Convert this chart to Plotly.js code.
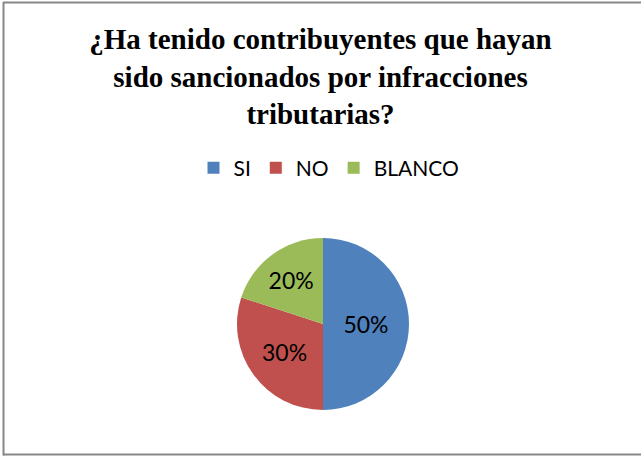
<!DOCTYPE html>
<html>
<head>
<meta charset="utf-8">
<script src="https://cdn.plot.ly/plotly-3.0.1.min.js"></script>
<style>
  html, body { margin: 0; padding: 0; background: #ffffff; }
  #chart { width: 641px; height: 457px; }
</style>
</head>
<body>
<div id="chart"></div>
<script>
// ---- data ----
const categories = ["SI", "NO", "BLANCO"];
const values = [50, 30, 20];
const sliceColors = ["#4F81BD", "#C0504D", "#9BBB59"];
const chartTitle = "¿Ha tenido contribuyentes que hayan<br>sido sancionados por infracciones<br>tributarias?";

// ---- layout geometry (pixels) ----
const W = 641, H = 457;
const M = { l: 5, r: 0, t: 238, b: 47 };
const plotW = W - M.l - M.r, plotH = H - M.t - M.b;
const px = x => (x - M.l) / plotW;
const py = y => (H - M.b - y) / plotH;
const borderColor = "#878787";

const trace = {
  type: "pie",
  labels: categories,
  values: values,
  sort: false,
  direction: "clockwise",
  rotation: 0,
  marker: { colors: sliceColors, line: { width: 0 } },
  textinfo: "percent",
  textposition: "inside",
  insidetextorientation: "horizontal",
  textfont: { family: "Lato, 'Open Sans', sans-serif", size: 23, color: "#000000" },
  hoverinfo: "label+percent"
};

const layout = {
  width: W, height: H,
  margin: M,
  paper_bgcolor: "#ffffff",
  plot_bgcolor: "#ffffff",
  showlegend: true,
  title: {
    text: chartTitle,
    font: { family: "'Liberation Serif', 'Times New Roman', serif", size: 29, color: "#000000", weight: "bold" },
    x: 0.5, xref: "container", xanchor: "center",
    y: 1 - 49 / H, yref: "container", yanchor: "top"
  },
  legend: {
    orientation: "h",
    x: px(329), xanchor: "center",
    y: py(168), yanchor: "middle",
    font: { family: "Lato, 'Open Sans', sans-serif", size: 21, color: "#000000" },
    itemclick: false, itemdoubleclick: false
  },
  shapes: [
    { type: "line", xref: "paper", yref: "paper", x0: px(3.5), x1: px(3.5), y0: py(2), y1: py(455.5), line: { color: borderColor, width: 2 } },
    { type: "line", xref: "paper", yref: "paper", x0: px(3), x1: px(641), y0: py(2.5), y1: py(2.5), line: { color: borderColor, width: 2 } },
    { type: "line", xref: "paper", yref: "paper", x0: px(3), x1: px(641), y0: py(454.5), y1: py(454.5), line: { color: borderColor, width: 2 } }
  ]
};

Plotly.newPlot("chart", [trace], layout, { displayModeBar: false, staticPlot: true });
</script>
</body>
</html>
